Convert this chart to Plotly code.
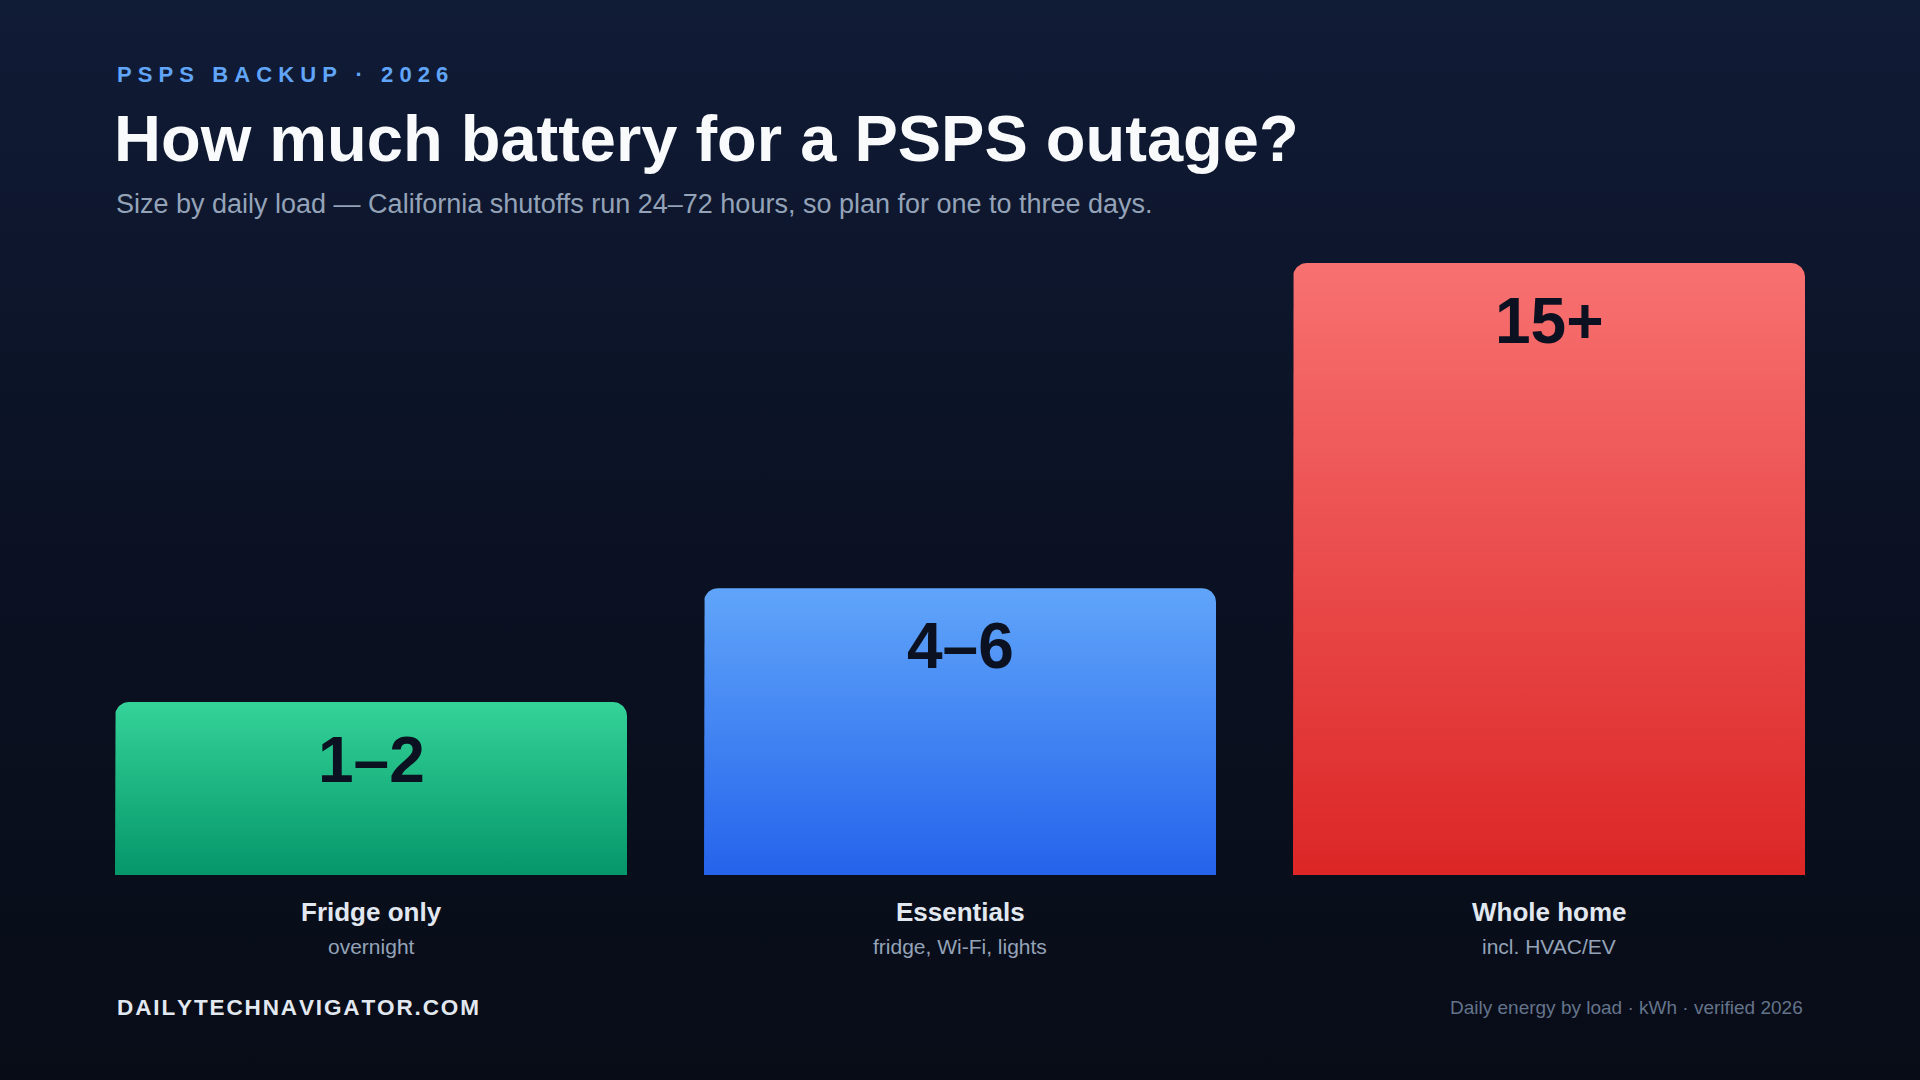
import numpy as np
import plotly.graph_objects as go

# ---------------- data ----------------
categories = ["Fridge only", "Essentials", "Whole home"]
sublabels = ["overnight", "fridge, Wi-Fi, lights", "incl. HVAC/EV"]
value_labels = ["1–2", "4–6", "15+"]
bar_heights = [4.24, 7.03, 15.0]          # drawn bar heights (daily kWh display scale)
top_colors = ["#34d399", "#60a5fa", "#f87171"]
bottom_colors = ["#059669", "#2563eb", "#dc2626"]

# ---------------- layout geometry (pixels) ----------------
W, H = 1920, 1080
FIRST_CENTER_PX = 371      # centre of first bar
PERIOD_PX = 589            # spacing between bar centres
BAR_W_PX = 512
BASE_PX = 875              # pixel row of zero
PX_PER_UNIT_Y = 40.8
RADIUS_PX = 14

x_range = [-FIRST_CENTER_PX / PERIOD_PX, (W - FIRST_CENTER_PX) / PERIOD_PX]
y_range = [-(H - BASE_PX) / PX_PER_UNIT_Y, BASE_PX / PX_PER_UNIT_Y]
bw = BAR_W_PX / PERIOD_PX
rx = RADIUS_PX / PERIOD_PX
ry = RADIUS_PX / PX_PER_UNIT_Y

fig = go.Figure()

# background gradient
fig.add_trace(go.Scatter(
    x=[x_range[0], x_range[1], x_range[1], x_range[0], x_range[0]],
    y=[y_range[0], y_range[0], y_range[1], y_range[1], y_range[0]],
    mode="lines", line=dict(width=0), fill="toself",
    fillgradient=dict(type="vertical",
                      colorscale=[[0, "#080c17"], [0.55, "#0b1224"], [1, "#101b36"]]),
    hoverinfo="skip", showlegend=False))

# bars with rounded top corners and vertical gradients
t = np.linspace(0, np.pi / 2, 12)
for i, (cat, h) in enumerate(zip(categories, bar_heights)):
    x0, x1 = i - bw / 2, i + bw / 2
    xs = [x0]
    ys = [0]
    xs += list(x0 + rx - rx * np.cos(t))
    ys += list(h - ry + ry * np.sin(t))
    xs += list(x1 - rx + rx * np.sin(t))
    ys += list(h - ry + ry * np.cos(t))
    xs += [x1, x0]
    ys += [0, 0]
    fig.add_trace(go.Scatter(
        x=xs, y=ys, mode="lines", line=dict(width=0), fill="toself",
        fillgradient=dict(type="vertical", start=0, stop=h,
                          colorscale=[[0, bottom_colors[i]], [1, top_colors[i]]]),
        name=cat, hoverinfo="skip", showlegend=False))

FONT = "Liberation Sans, Arial, Helvetica, sans-serif"
ann = []
for i, cat in enumerate(categories):
    ann.append(dict(x=i, y=bar_heights[i], xref="x", yref="y", yshift=-58,
                    text=f"<b>{value_labels[i]}</b>", showarrow=False,
                    xanchor="center", yanchor="middle",
                    font=dict(family=FONT, size=64, color="#0b1120")))
    ann.append(dict(x=i, y=0, xref="x", yref="y", yshift=-37,
                    text=f"<b>{cat}</b>", showarrow=False,
                    xanchor="center", yanchor="middle",
                    font=dict(family=FONT, size=26, color="#e2e8f0")))
    ann.append(dict(x=i, y=0, xref="x", yref="y", yshift=-71,
                    text=sublabels[i], showarrow=False,
                    xanchor="center", yanchor="middle",
                    font=dict(family=FONT, size=21, color="#94a3b8")))

NB = "\u00a0"
def spaced(s, sep):
    return sep.join(s)

eyebrow = spaced("PSPS", NB) + NB * 3 + spaced("BACKUP", NB) + NB * 3 + "·" + NB * 3 + spaced("2026", NB)
ann.append(dict(x=115 / W, y=1 - 75 / H, xref="paper", yref="paper",
                text=f"<b>{eyebrow}</b>", showarrow=False, xanchor="left", yanchor="middle",
                font=dict(family=FONT, size=22, color="#60a5fa")))
ann.append(dict(x=112 / W, y=1 - 138 / H, xref="paper", yref="paper",
                text="<b>How much battery for a PSPS outage?</b>", showarrow=False,
                xanchor="left", yanchor="middle",
                font=dict(family=FONT, size=65, color="#f8fafc")))
ann.append(dict(x=114 / W, y=1 - 204 / H, xref="paper", yref="paper",
                text="Size by daily load — California shutoffs run 24–72 hours, so plan for one to three days.",
                showarrow=False, xanchor="left", yanchor="middle",
                font=dict(family=FONT, size=27, color="#94a3b8")))
ann.append(dict(x=115 / W, y=1 - 1007 / H, xref="paper", yref="paper",
                text="<b>" + "\u200a".join("DAILYTECHNAVIGATOR.COM") + "</b>", showarrow=False,
                xanchor="left", yanchor="middle",
                font=dict(family=FONT, size=22.5, color="#e2e8f0")))
ann.append(dict(x=1805 / W, y=1 - 1007 / H, xref="paper", yref="paper",
                text="Daily energy by load · kWh · verified 2026", showarrow=False,
                xanchor="right", yanchor="middle",
                font=dict(family=FONT, size=19, color="#64748b")))

fig.update_layout(
    width=W, height=H,
    margin=dict(l=0, r=0, t=0, b=0),
    paper_bgcolor="#0a0f1c", plot_bgcolor="rgba(0,0,0,0)",
    xaxis=dict(range=x_range, domain=[0, 1], visible=False, fixedrange=True),
    yaxis=dict(range=y_range, domain=[0, 1], visible=False, fixedrange=True),
    annotations=ann, showlegend=False,
)

fig.write_html("out.html", config={"displayModeBar": False})
